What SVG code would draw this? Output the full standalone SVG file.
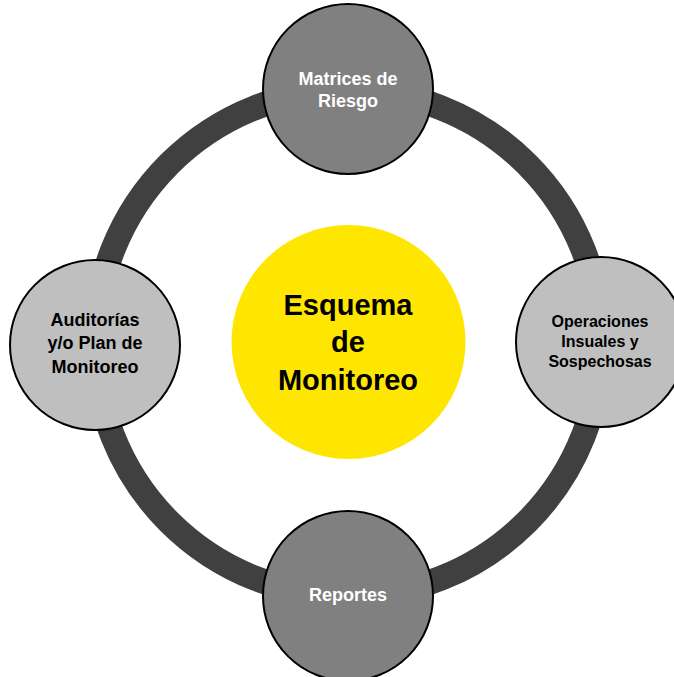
<svg xmlns="http://www.w3.org/2000/svg" width="674" height="677" viewBox="0 0 674 677">
<style>
.node{stroke:#000;stroke-width:2}
.dark{fill:#808080}
.light{fill:#BFBFBF}
.t{font-family:"Liberation Sans",Arial,sans-serif;font-weight:bold;text-anchor:middle}
.tw{fill:#fff;font-size:18px}
.tb{fill:#000;font-size:18px}
.tc{fill:#000;font-size:29px}
</style>
<rect width="674" height="677" fill="#fff"/>
<g id="connectors">
<circle cx="348" cy="343" r="253" fill="none" stroke="#404040" stroke-width="25"/>
</g>
<g id="center">
<circle cx="348.5" cy="342" r="117" fill="#FFE600"/>
<text class="t tc" x="348" y="315">Esquema</text>
<text class="t tc" x="348" y="352">de</text>
<text class="t tc" x="348" y="390">Monitoreo</text>
</g>
<g id="top">
<circle class="node dark" cx="348" cy="89" r="85"/>
<text class="t tw" x="348" y="85">Matrices de</text>
<text class="t tw" x="348" y="107">Riesgo</text>
</g>
<g id="left">
<circle class="node light" cx="95" cy="345" r="85"/>
<text class="t tb" x="95" y="326">Auditorías</text>
<text class="t tb" x="95" y="349">y/o Plan de</text>
<text class="t tb" x="95" y="373">Monitoreo</text>
</g>
<g id="right">
<circle class="node light" cx="601" cy="342" r="85"/>
<text class="t tb" x="600" y="327" style="font-size:16px">Operaciones</text>
<text class="t tb" x="600" y="347" style="font-size:16px">Insuales y</text>
<text class="t tb" x="600" y="367" style="font-size:16px">Sospechosas</text>
</g>
<g id="bottom">
<circle class="node dark" cx="348" cy="596" r="85"/>
<text class="t tw" x="348" y="601">Reportes</text>
</g>
</svg>
